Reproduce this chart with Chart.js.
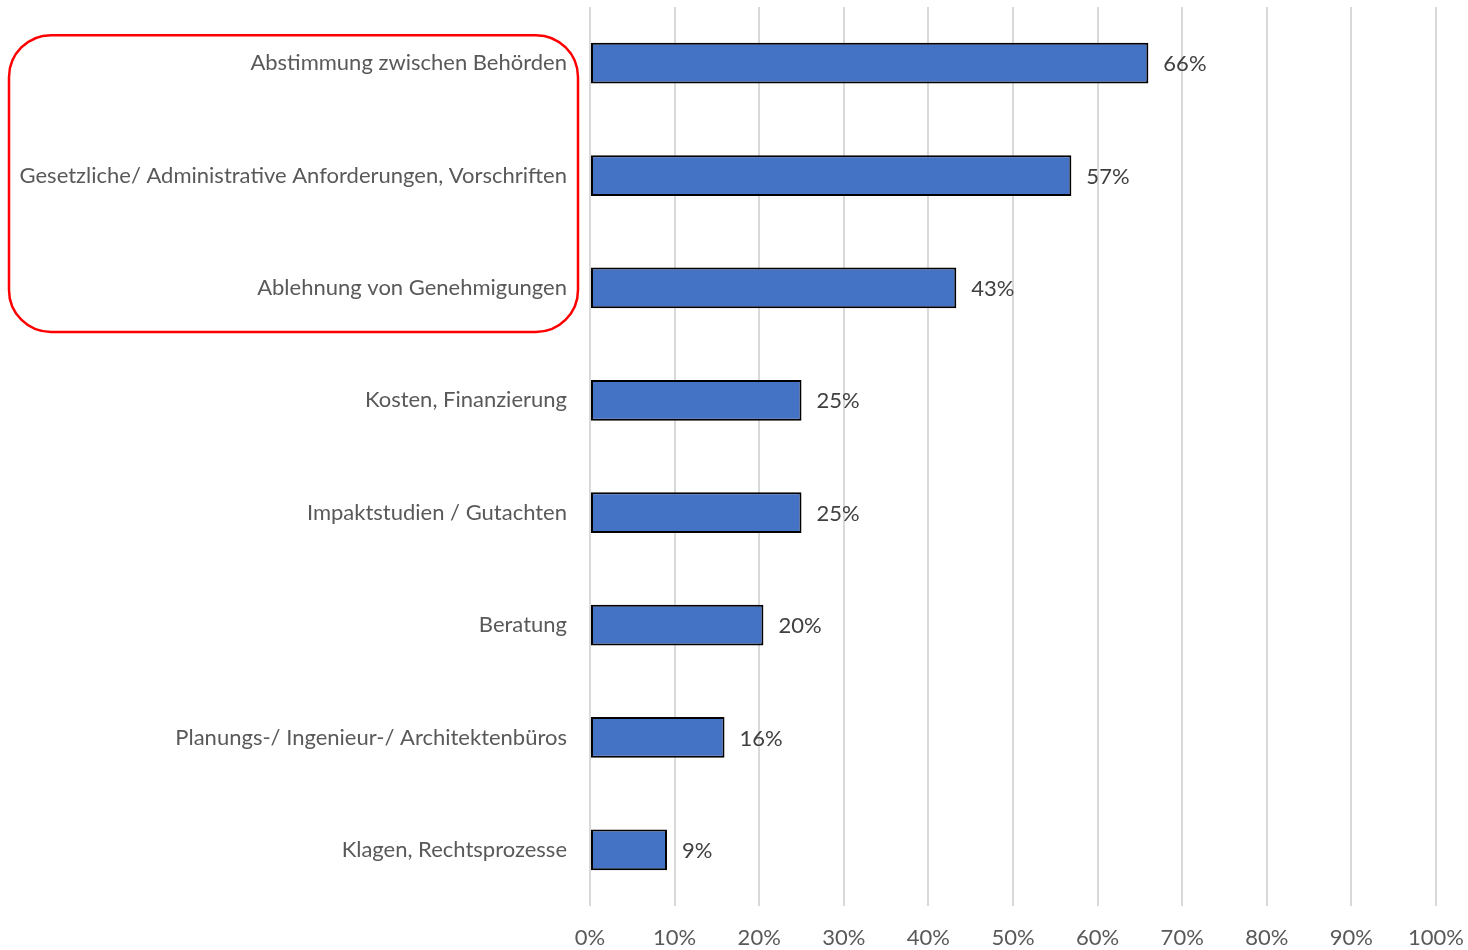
<!DOCTYPE html>
<html>
<head>
<meta charset="utf-8">
<script src="https://cdn.jsdelivr.net/npm/chart.js@4.4.0/dist/chart.umd.min.js"></script>
<style>
html,body{margin:0;padding:0;background:#fff;}
#wrap{width:1468px;height:950px;position:relative;}
</style>
</head>
<body>
<div id="wrap"><canvas id="c" width="1468" height="950"></canvas></div>
<script>
const categories = [
  "Abstimmung zwischen Behörden",
  "Gesetzliche/ Administrative Anforderungen, Vorschriften",
  "Ablehnung von Genehmigungen",
  "Kosten, Finanzierung",
  "Impaktstudien / Gutachten",
  "Beratung",
  "Planungs-/ Ingenieur-/ Architektenbüros",
  "Klagen, Rechtsprozesse"
];
const values = [66, 56.9, 43.3, 25, 25, 20.5, 15.9, 9.1];
const valueLabels = ["66%", "57%", "43%", "25%", "25%", "20%", "16%", "9%"];
const xTicks = [0, 10, 20, 30, 40, 50, 60, 70, 80, 90, 100];
const highlighted = [0, 1, 2];

const FONT = "Lato, 'Open Sans', sans-serif";
const FSIZE = 22;

const dataLabelPlugin = {
  id: 'dataLabels',
  afterDatasetsDraw(chart) {
    const ctx = chart.ctx;
    const meta = chart.getDatasetMeta(0);
    ctx.save();
    ctx.font = FSIZE + "px " + FONT;
    ctx.fillStyle = "#404040";
    ctx.textAlign = "left";
    ctx.textBaseline = "middle";
    meta.data.forEach((bar, i) => {
      ctx.fillText(valueLabels[i], bar.x + 15, bar.y + 1);
    });
    ctx.restore();
  }
};

const highlightPlugin = {
  id: 'highlight',
  afterDraw(chart) {
    const ctx = chart.ctx;
    const y = chart.scales.y;
    const first = highlighted[0], last = highlighted[highlighted.length - 1];
    const top = y.getPixelForValue(first) - 28;
    const bottom = y.getPixelForValue(last) + 44;
    const left = 9;
    const right = chart.chartArea.left - 12;
    const r = 42;
    ctx.save();
    ctx.strokeStyle = "#ff0000";
    ctx.lineWidth = 2.5;
    ctx.beginPath();
    ctx.roundRect(left, top, right - left, bottom - top, r);
    ctx.stroke();
    ctx.restore();
  }
};

function zeroPad(scale) {
  scale.paddingTop = 0; scale.paddingBottom = 0;
  scale.paddingLeft = 0; scale.paddingRight = 0;
}

new Chart(document.getElementById('c'), {
  type: 'bar',
  data: {
    labels: categories,
    datasets: [{
      data: values,
      backgroundColor: "#4472C4",
      borderColor: "#000000",
      borderWidth: 2,
      borderSkipped: false,
      barPercentage: 0.362,
      categoryPercentage: 1.0
    }]
  },
  options: {
    indexAxis: 'y',
    responsive: false,
    animation: false,
    devicePixelRatio: 1,
    layout: { padding: { top: 7, right: 32, left: 0, bottom: 0 } },
    plugins: { legend: { display: false }, tooltip: { enabled: false } },
    scales: {
      x: {
        min: 0, max: 100,
        afterBuildTicks(scale) { scale.ticks = xTicks.map(v => ({ value: v })); },
        afterFit(scale) { scale.height = 44; zeroPad(scale); },
        grid: { color: "#d9d9d9", lineWidth: 2, drawTicks: false },
        border: { display: false },
        ticks: {
          padding: 19,
          color: "#595959",
          font: { family: FONT, size: FSIZE },
          maxRotation: 0,
          callback: (v) => v + "%"
        }
      },
      y: {
        afterFit(scale) { scale.width = 590; zeroPad(scale); },
        grid: { display: false, drawTicks: false },
        border: { display: false },
        ticks: {
          padding: 23,
          color: "#595959",
          font: { family: FONT, size: FSIZE }
        }
      }
    }
  },
  plugins: [dataLabelPlugin, highlightPlugin]
});
</script>
</body>
</html>
